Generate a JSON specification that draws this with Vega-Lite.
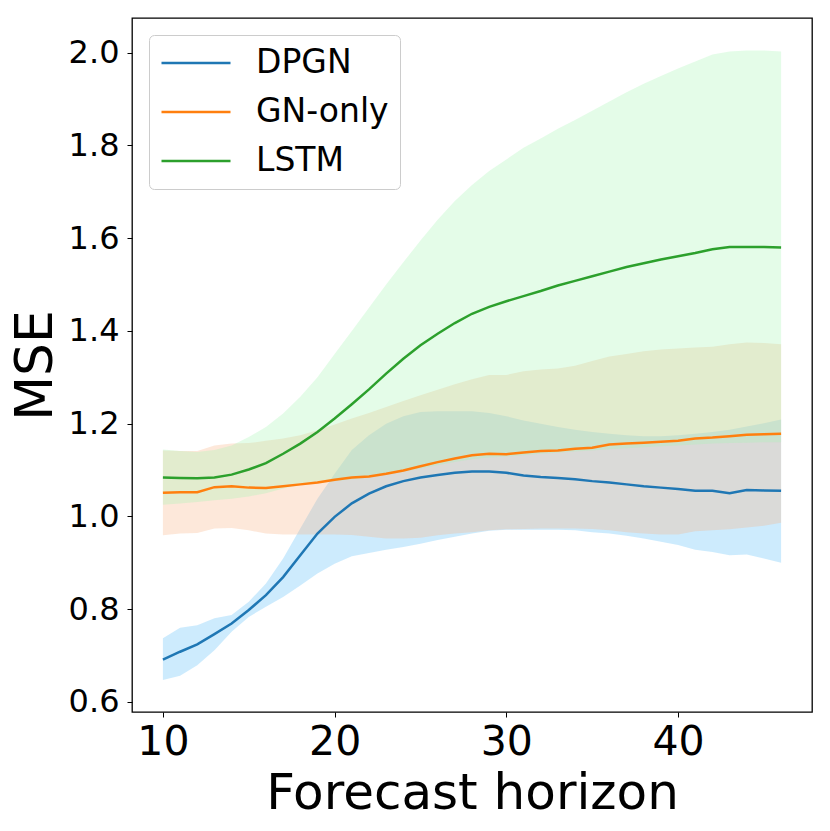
{
  "$schema": "https://vega.github.io/schema/vega-lite/v6.json",
  "description": "MSE against forecast horizon for DPGN, GN-only and LSTM",
  "autosize": {"type": "none"},
  "padding": {"left": 132, "top": 18, "right": 18, "bottom": 119},
  "width": 680,
  "height": 694,
  "background": "white",
  "data": {
    "values": [
      {"x": 10, "model": "DPGN", "m": 0.691, "lo": 0.647, "hi": 0.737},
      {"x": 11, "model": "DPGN", "m": 0.708, "lo": 0.656, "hi": 0.760},
      {"x": 12, "model": "DPGN", "m": 0.724, "lo": 0.679, "hi": 0.765},
      {"x": 13, "model": "DPGN", "m": 0.746, "lo": 0.711, "hi": 0.780},
      {"x": 14, "model": "DPGN", "m": 0.769, "lo": 0.751, "hi": 0.787},
      {"x": 15, "model": "DPGN", "m": 0.798, "lo": 0.783, "hi": 0.816},
      {"x": 16, "model": "DPGN", "m": 0.830, "lo": 0.805, "hi": 0.855},
      {"x": 17, "model": "DPGN", "m": 0.869, "lo": 0.826, "hi": 0.909},
      {"x": 18, "model": "DPGN", "m": 0.916, "lo": 0.851, "hi": 0.974},
      {"x": 19, "model": "DPGN", "m": 0.963, "lo": 0.877, "hi": 1.038},
      {"x": 20, "model": "DPGN", "m": 0.999, "lo": 0.898, "hi": 1.092},
      {"x": 21, "model": "DPGN", "m": 1.028, "lo": 0.914, "hi": 1.143},
      {"x": 22, "model": "DPGN", "m": 1.049, "lo": 0.921, "hi": 1.175},
      {"x": 23, "model": "DPGN", "m": 1.065, "lo": 0.928, "hi": 1.200},
      {"x": 24, "model": "DPGN", "m": 1.076, "lo": 0.934, "hi": 1.216},
      {"x": 25, "model": "DPGN", "m": 1.084, "lo": 0.941, "hi": 1.225},
      {"x": 26, "model": "DPGN", "m": 1.089, "lo": 0.949, "hi": 1.227},
      {"x": 27, "model": "DPGN", "m": 1.094, "lo": 0.956, "hi": 1.227},
      {"x": 28, "model": "DPGN", "m": 1.097, "lo": 0.963, "hi": 1.227},
      {"x": 29, "model": "DPGN", "m": 1.097, "lo": 0.969, "hi": 1.223},
      {"x": 30, "model": "DPGN", "m": 1.094, "lo": 0.971, "hi": 1.216},
      {"x": 31, "model": "DPGN", "m": 1.088, "lo": 0.971, "hi": 1.207},
      {"x": 32, "model": "DPGN", "m": 1.085, "lo": 0.971, "hi": 1.200},
      {"x": 33, "model": "DPGN", "m": 1.083, "lo": 0.971, "hi": 1.193},
      {"x": 34, "model": "DPGN", "m": 1.080, "lo": 0.970, "hi": 1.187},
      {"x": 35, "model": "DPGN", "m": 1.076, "lo": 0.966, "hi": 1.182},
      {"x": 36, "model": "DPGN", "m": 1.073, "lo": 0.963, "hi": 1.178},
      {"x": 37, "model": "DPGN", "m": 1.069, "lo": 0.958, "hi": 1.175},
      {"x": 38, "model": "DPGN", "m": 1.065, "lo": 0.952, "hi": 1.173},
      {"x": 39, "model": "DPGN", "m": 1.062, "lo": 0.945, "hi": 1.173},
      {"x": 40, "model": "DPGN", "m": 1.059, "lo": 0.938, "hi": 1.175},
      {"x": 41, "model": "DPGN", "m": 1.055, "lo": 0.928, "hi": 1.178},
      {"x": 42, "model": "DPGN", "m": 1.055, "lo": 0.923, "hi": 1.182},
      {"x": 43, "model": "DPGN", "m": 1.050, "lo": 0.916, "hi": 1.187},
      {"x": 44, "model": "DPGN", "m": 1.057, "lo": 0.918, "hi": 1.194},
      {"x": 45, "model": "DPGN", "m": 1.056, "lo": 0.909, "hi": 1.201},
      {"x": 46, "model": "DPGN", "m": 1.055, "lo": 0.900, "hi": 1.209},
      {"x": 10, "model": "GN-only", "m": 1.051, "lo": 0.959, "hi": 1.142},
      {"x": 11, "model": "GN-only", "m": 1.052, "lo": 0.963, "hi": 1.141},
      {"x": 12, "model": "GN-only", "m": 1.052, "lo": 0.964, "hi": 1.141},
      {"x": 13, "model": "GN-only", "m": 1.063, "lo": 0.974, "hi": 1.153},
      {"x": 14, "model": "GN-only", "m": 1.065, "lo": 0.975, "hi": 1.157},
      {"x": 15, "model": "GN-only", "m": 1.062, "lo": 0.970, "hi": 1.158},
      {"x": 16, "model": "GN-only", "m": 1.061, "lo": 0.963, "hi": 1.163},
      {"x": 17, "model": "GN-only", "m": 1.065, "lo": 0.961, "hi": 1.168},
      {"x": 18, "model": "GN-only", "m": 1.069, "lo": 0.961, "hi": 1.175},
      {"x": 19, "model": "GN-only", "m": 1.073, "lo": 0.961, "hi": 1.186},
      {"x": 20, "model": "GN-only", "m": 1.079, "lo": 0.961, "hi": 1.198},
      {"x": 21, "model": "GN-only", "m": 1.084, "lo": 0.960, "hi": 1.211},
      {"x": 22, "model": "GN-only", "m": 1.086, "lo": 0.956, "hi": 1.223},
      {"x": 23, "model": "GN-only", "m": 1.092, "lo": 0.952, "hi": 1.236},
      {"x": 24, "model": "GN-only", "m": 1.099, "lo": 0.952, "hi": 1.249},
      {"x": 25, "model": "GN-only", "m": 1.108, "lo": 0.954, "hi": 1.261},
      {"x": 26, "model": "GN-only", "m": 1.117, "lo": 0.959, "hi": 1.273},
      {"x": 27, "model": "GN-only", "m": 1.125, "lo": 0.963, "hi": 1.285},
      {"x": 28, "model": "GN-only", "m": 1.132, "lo": 0.966, "hi": 1.296},
      {"x": 29, "model": "GN-only", "m": 1.135, "lo": 0.970, "hi": 1.305},
      {"x": 30, "model": "GN-only", "m": 1.134, "lo": 0.972, "hi": 1.305},
      {"x": 31, "model": "GN-only", "m": 1.138, "lo": 0.973, "hi": 1.313},
      {"x": 32, "model": "GN-only", "m": 1.141, "lo": 0.974, "hi": 1.317},
      {"x": 33, "model": "GN-only", "m": 1.142, "lo": 0.974, "hi": 1.319},
      {"x": 34, "model": "GN-only", "m": 1.146, "lo": 0.974, "hi": 1.325},
      {"x": 35, "model": "GN-only", "m": 1.148, "lo": 0.973, "hi": 1.335},
      {"x": 36, "model": "GN-only", "m": 1.155, "lo": 0.970, "hi": 1.345},
      {"x": 37, "model": "GN-only", "m": 1.157, "lo": 0.966, "hi": 1.350},
      {"x": 38, "model": "GN-only", "m": 1.159, "lo": 0.963, "hi": 1.356},
      {"x": 39, "model": "GN-only", "m": 1.161, "lo": 0.961, "hi": 1.360},
      {"x": 40, "model": "GN-only", "m": 1.163, "lo": 0.961, "hi": 1.362},
      {"x": 41, "model": "GN-only", "m": 1.168, "lo": 0.968, "hi": 1.364},
      {"x": 42, "model": "GN-only", "m": 1.170, "lo": 0.970, "hi": 1.366},
      {"x": 43, "model": "GN-only", "m": 1.173, "lo": 0.972, "hi": 1.371},
      {"x": 44, "model": "GN-only", "m": 1.176, "lo": 0.976, "hi": 1.375},
      {"x": 45, "model": "GN-only", "m": 1.177, "lo": 0.980, "hi": 1.374},
      {"x": 46, "model": "GN-only", "m": 1.178, "lo": 0.986, "hi": 1.371},
      {"x": 10, "model": "LSTM", "m": 1.084, "lo": 1.025, "hi": 1.144},
      {"x": 11, "model": "LSTM", "m": 1.083, "lo": 1.028, "hi": 1.141},
      {"x": 12, "model": "LSTM", "m": 1.082, "lo": 1.031, "hi": 1.139},
      {"x": 13, "model": "LSTM", "m": 1.084, "lo": 1.035, "hi": 1.143},
      {"x": 14, "model": "LSTM", "m": 1.090, "lo": 1.038, "hi": 1.153},
      {"x": 15, "model": "LSTM", "m": 1.101, "lo": 1.043, "hi": 1.171},
      {"x": 16, "model": "LSTM", "m": 1.115, "lo": 1.050, "hi": 1.193},
      {"x": 17, "model": "LSTM", "m": 1.135, "lo": 1.060, "hi": 1.222},
      {"x": 18, "model": "LSTM", "m": 1.157, "lo": 1.068, "hi": 1.258},
      {"x": 19, "model": "LSTM", "m": 1.182, "lo": 1.072, "hi": 1.300},
      {"x": 20, "model": "LSTM", "m": 1.211, "lo": 1.076, "hi": 1.350},
      {"x": 21, "model": "LSTM", "m": 1.242, "lo": 1.080, "hi": 1.400},
      {"x": 22, "model": "LSTM", "m": 1.274, "lo": 1.084, "hi": 1.450},
      {"x": 23, "model": "LSTM", "m": 1.308, "lo": 1.090, "hi": 1.500},
      {"x": 24, "model": "LSTM", "m": 1.340, "lo": 1.096, "hi": 1.548},
      {"x": 25, "model": "LSTM", "m": 1.369, "lo": 1.103, "hi": 1.595},
      {"x": 26, "model": "LSTM", "m": 1.394, "lo": 1.110, "hi": 1.640},
      {"x": 27, "model": "LSTM", "m": 1.417, "lo": 1.117, "hi": 1.680},
      {"x": 28, "model": "LSTM", "m": 1.437, "lo": 1.123, "hi": 1.715},
      {"x": 29, "model": "LSTM", "m": 1.452, "lo": 1.127, "hi": 1.745},
      {"x": 30, "model": "LSTM", "m": 1.464, "lo": 1.129, "hi": 1.770},
      {"x": 31, "model": "LSTM", "m": 1.475, "lo": 1.132, "hi": 1.795},
      {"x": 32, "model": "LSTM", "m": 1.486, "lo": 1.135, "hi": 1.815},
      {"x": 33, "model": "LSTM", "m": 1.498, "lo": 1.137, "hi": 1.836},
      {"x": 34, "model": "LSTM", "m": 1.508, "lo": 1.140, "hi": 1.855},
      {"x": 35, "model": "LSTM", "m": 1.518, "lo": 1.142, "hi": 1.875},
      {"x": 36, "model": "LSTM", "m": 1.528, "lo": 1.145, "hi": 1.895},
      {"x": 37, "model": "LSTM", "m": 1.538, "lo": 1.147, "hi": 1.915},
      {"x": 38, "model": "LSTM", "m": 1.546, "lo": 1.149, "hi": 1.933},
      {"x": 39, "model": "LSTM", "m": 1.554, "lo": 1.151, "hi": 1.950},
      {"x": 40, "model": "LSTM", "m": 1.561, "lo": 1.153, "hi": 1.966},
      {"x": 41, "model": "LSTM", "m": 1.568, "lo": 1.155, "hi": 1.981},
      {"x": 42, "model": "LSTM", "m": 1.576, "lo": 1.157, "hi": 1.996},
      {"x": 43, "model": "LSTM", "m": 1.581, "lo": 1.158, "hi": 2.003},
      {"x": 44, "model": "LSTM", "m": 1.581, "lo": 1.159, "hi": 2.005},
      {"x": 45, "model": "LSTM", "m": 1.581, "lo": 1.160, "hi": 2.005},
      {"x": 46, "model": "LSTM", "m": 1.580, "lo": 1.160, "hi": 2.003}
    ]
  },
  "encoding": {
    "x": {
      "field": "x",
      "type": "quantitative",
      "scale": {"domain": [8.2, 47.8], "nice": false, "zero": false},
      "axis": {
        "title": "Forecast horizon",
        "values": [10, 20, 30, 40],
        "labelFontSize": 41,
        "labelPadding": 5,
        "titleFontSize": 50,
        "titlePadding": 6,
        "titleFontWeight": "normal"
      }
    }
  },
  "layer": [
    {
      "transform": [{"filter": "datum.model === 'DPGN'"}],
      "mark": {"type": "area", "color": "#58bcf8", "opacity": 0.3},
      "encoding": {
        "y": {
          "field": "lo",
          "type": "quantitative",
          "scale": {"domain": [0.578, 2.075], "nice": false, "zero": false},
          "axis": {
            "title": "MSE",
            "values": [0.6, 0.8, 1.0, 1.2, 1.4, 1.6, 1.8, 2.0],
            "format": ".1f",
            "labelFontSize": 32,
            "labelPadding": 8,
            "titleFontSize": 52,
            "titlePadding": 6,
            "titleFontWeight": "normal"
          }
        },
        "y2": {"field": "hi"}
      }
    },
    {
      "transform": [{"filter": "datum.model === 'GN-only'"}],
      "mark": {"type": "area", "color": "#f8b284", "opacity": 0.3},
      "encoding": {
        "y": {"field": "lo", "type": "quantitative", "axis": {"title": "MSE"}},
        "y2": {"field": "hi"}
      }
    },
    {
      "transform": [{"filter": "datum.model === 'LSTM'"}],
      "mark": {"type": "area", "color": "#a5f5b2", "opacity": 0.3},
      "encoding": {
        "y": {"field": "lo", "type": "quantitative", "axis": {"title": "MSE"}},
        "y2": {"field": "hi"}
      }
    },
    {
      "mark": {"type": "line", "strokeWidth": 2.5},
      "encoding": {
        "y": {"field": "m", "type": "quantitative", "axis": {"title": "MSE"}},
        "stroke": {
          "field": "model",
          "type": "nominal",
          "scale": {"domain": ["DPGN", "GN-only", "LSTM"], "range": ["#1f77b4", "#ff7f0e", "#2ca02c"]},
          "legend": {
            "orient": "none",
            "legendX": 17,
            "legendY": 17,
            "title": null,
            "symbolType": "stroke",
            "symbolSize": 4761,
            "symbolStrokeWidth": 2.5,
            "labelFontSize": 33,
            "labelOffset": 24,
            "clipHeight": 34,
            "rowPadding": 15,
            "padding": 11,
            "fillColor": "rgba(255,255,255,0.8)",
            "strokeColor": "#cccccc",
            "cornerRadius": 5
          }
        }
      }
    }
  ],
  "resolve": {"scale": {"y": "shared"}},
  "config": {
    "font": "DejaVu Sans",
    "view": {"stroke": "black", "strokeWidth": 1.3},
    "axis": {
      "grid": false,
      "domain": false,
      "ticks": true,
      "tickColor": "black",
      "tickSize": 5,
      "tickWidth": 1,
      "labelColor": "black",
      "titleColor": "black",
      "labelFont": "DejaVu Sans",
      "titleFont": "DejaVu Sans"
    },
    "scale": {"zero": false},
    "legend": {"labelFont": "DejaVu Sans", "labelColor": "black"}
  }
}
